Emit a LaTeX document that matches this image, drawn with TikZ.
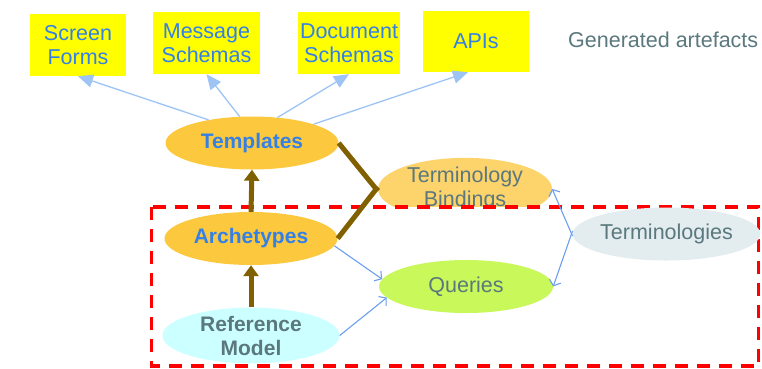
\documentclass[tikz,border=0pt]{standalone}
\usepackage{fontspec}
\setmainfont{Liberation Sans}
\usetikzlibrary{arrows.meta,shapes.geometric}
\definecolor{boxyellow}{HTML}{FFFF00}
\definecolor{txtblue}{HTML}{3480E6}
\definecolor{txtgray}{HTML}{5A787D}
\definecolor{tplfill}{HTML}{FCC93E}
\definecolor{tbfill}{HTML}{FDD36B}
\definecolor{qfill}{HTML}{C9F85A}
\definecolor{termfill}{HTML}{E3ECEF}
\definecolor{rmfill}{HTML}{CCFFFF}
\definecolor{lightarrow}{HTML}{9EC3F5}
\definecolor{bluearrow}{HTML}{6C9FF0}
\definecolor{brownline}{HTML}{806000}
\definecolor{dashred}{HTML}{FF0000}
\tikzset{
  artbox/.style={fill=boxyellow, draw=none, text=txtblue, align=center, inner sep=0pt,
    font=\fontsize{21.5}{24}\selectfont},
  ell/.style={ellipse, draw=none, align=center, inner sep=0pt,
    minimum width=173pt, minimum height=53pt, font=\fontsize{21.5}{24}\selectfont},
  toparrow/.style={draw=lightarrow, line width=1.3pt, -{Triangle[length=15pt,width=13pt]}},
  lowarrow/.style={draw=bluearrow, line width=1.1pt, -{Straight Barb[length=5pt,width=12pt]}},
  brownarrow/.style={draw=brownline, line width=5pt, -{Triangle[length=11pt,width=15pt]}},
  brownlink/.style={draw=brownline, line width=5pt},
  dashbox/.style={draw=dashred, line width=3.5pt, dash pattern=on 13pt off 9pt, fill=white}
}
\begin{document}
\begin{tikzpicture}[x=1pt,y=-1pt]
\useasboundingbox (0,0) rectangle (762,368);
% artefacts
\node[artbox, minimum width=96pt, minimum height=62pt] (sf) at (78,45) {Screen\\Forms};
\node[artbox, minimum width=107pt, minimum height=62pt] (ms) at (206.5,43) {Message\\Schemas};
\node[artbox, minimum width=102pt, minimum height=62pt] (ds) at (349,43) {Document\\Schemas};
\node[artbox, minimum width=106pt, minimum height=61pt] (api) at (476,41.5) {APIs};
\node[text=txtgray, anchor=west, inner sep=0pt, font=\fontsize{21.5}{24}\selectfont] (gen) at (568,40) {Generated artefacts};
% terminology bindings (partly covered by dashed box)
\node[ell, fill=tbfill, text=txtgray, minimum width=174pt] (tb) at (465,189) {Terminology\\Bindings};
\draw[dashbox] (151.5,207) rectangle (758.5,366);
% main nodes
\node[ell, fill=tplfill, text=txtblue, font=\fontsize{21}{24}\selectfont\bfseries] (tpl) at (252,143) {Templates};
\node[ell, fill=tplfill, text=txtblue, font=\fontsize{21}{24}\selectfont\bfseries] (arch) at (251,238.5) {Archetypes};
\node[ell, fill=rmfill, text=txtgray, minimum width=177pt, font=\fontsize{21}{24}\selectfont\bfseries] (rm) at (251,335.5) {Reference\\Model};
\node[ell, fill=qfill, text=txtgray, minimum width=174pt] (q) at (466,286.5) {Queries};
\node[ell, fill=termfill, text=txtgray] (term) at (666.5,234) {Terminologies};
% generated artefacts arrows
\draw[toparrow] (tpl.152) -- (sf.south);
\draw[toparrow] (tpl.115) -- (ms.south);
\draw[toparrow] (tpl.45) -- (ds.south);
\draw[toparrow] (tpl.17) -- ([xshift=-8pt]api.south);
% brown
\draw[brownarrow] (rm.north) -- (arch.south);
\draw[brownarrow] (arch.north) -- (tpl.south);
\draw[brownlink] (tpl.east) -- ([yshift=-2pt]tb.west);
\draw[brownlink] (arch.east) -- ([yshift=2pt]tb.west);
% lower blue arrows
\draw[lowarrow] (arch.-5) -- (q.175);
\draw[lowarrow] (rm.east) -- (q.188);
\draw[lowarrow] ([yshift=-2pt]term.west) -- (tb.east);
\draw[lowarrow] ([yshift=3pt]term.west) -- (q.east);
\end{tikzpicture}
\end{document}
